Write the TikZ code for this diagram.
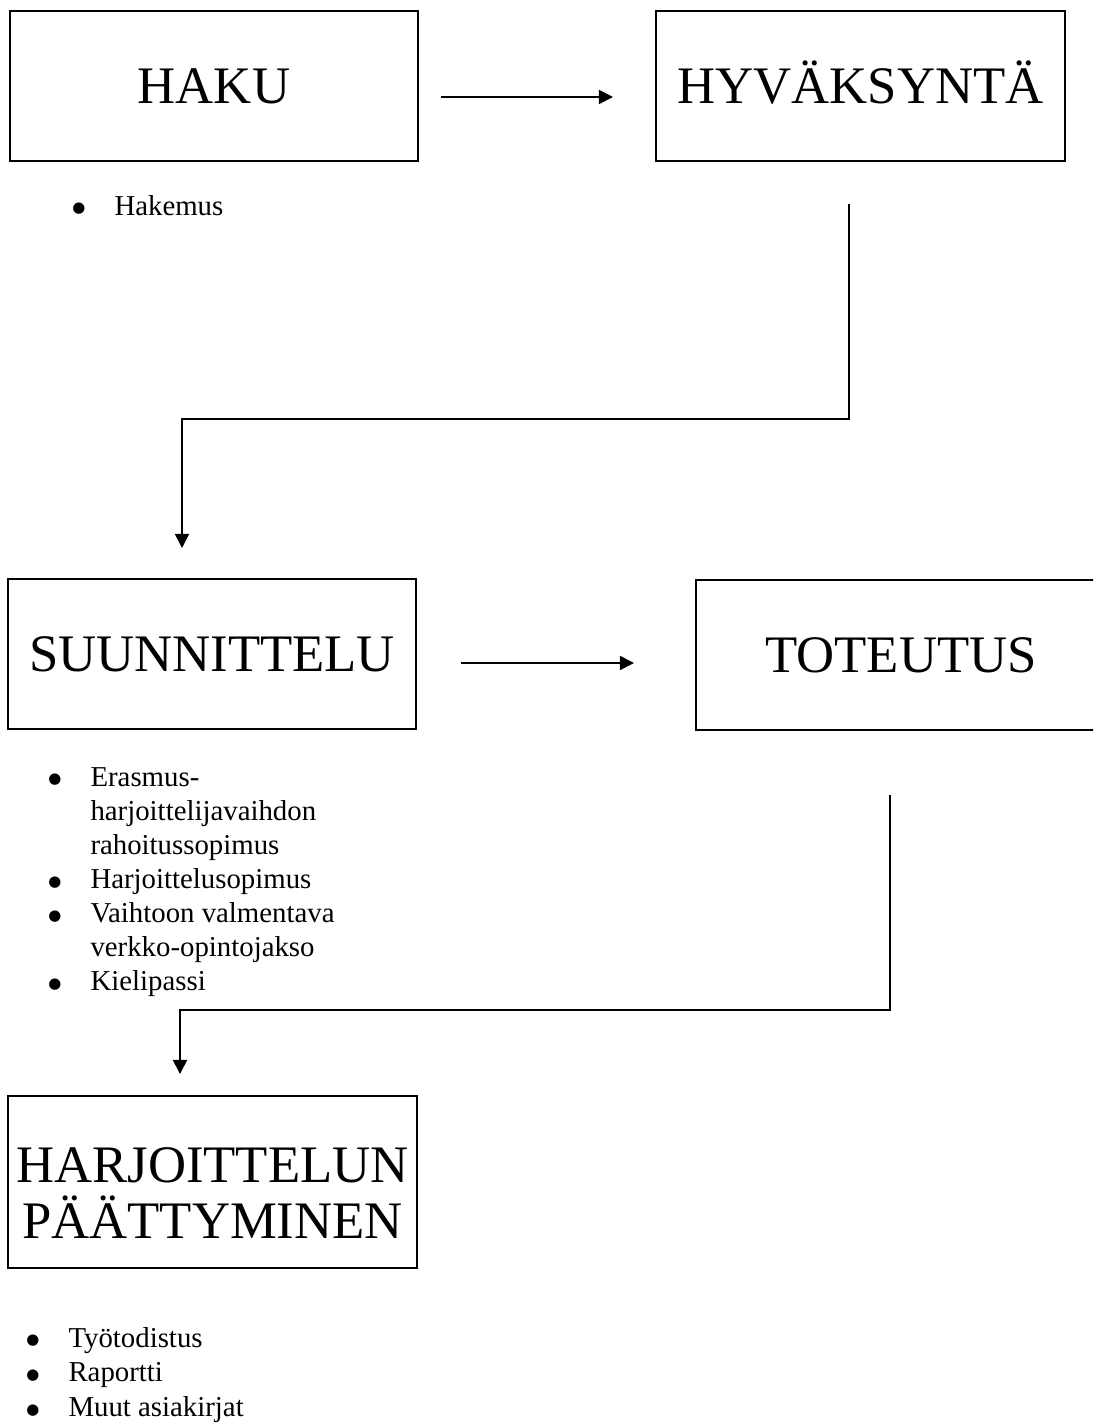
\documentclass[tikz,border=0pt]{standalone}
\usepackage{fontspec}
\setmainfont{Liberation Serif}
\newfontfamily\merkit{DejaVu Sans}
\usetikzlibrary{arrows.meta}

\newcommand{\blt}{\makebox[24pt][l]{\raisebox{1.2pt}{\fontsize{8.5}{8.5}\merkit ●}}}

\begin{document}
\begin{tikzpicture}[x=0.02cm, y=-0.02cm, line join=miter,
    vaihe/.style={draw, line width=1pt, minimum height=3cm, inner sep=0pt,
        font=\fontsize{30}{32}\selectfont, text height=20pt, text depth=0pt},
    lista/.style={anchor=base west, inner sep=0pt, align=left},
    nuoli/.style={line width=1pt, -{Triangle[length=8pt, width=8pt]}}]

    \clip (0, 0) rectangle (1093, 1423);

    % Vaiheet
    \node[vaihe, minimum width=8.16cm] (haku) at (214, 86) {HAKU};
    \node[vaihe, minimum width=8.18cm] (hyvaksynta) at (860.5, 86) {HYVÄKSYNTÄ};
    \node[vaihe, minimum width=8.16cm] (suunnittelu) at (212, 654) {SUUNNITTELU};
    \node[vaihe, minimum width=8.2cm] (toteutus) at (901, 655) {TOTEUTUS};
    \node[vaihe, minimum width=8.18cm, minimum height=3.44cm, align=center,
        text height=64pt, text depth=0pt] (paattyminen) at (212.5, 1182)
        {HARJOITTELUN\\PÄÄTTYMINEN};

    % Nuolten päät
    \coordinate (a1) at (441, 97);
    \coordinate (a2) at (613, 97);
    \coordinate (b1) at (849, 204);
    \coordinate (b2) at (182, 548);
    \coordinate (c1) at (461, 663);
    \coordinate (c2) at (634, 663);
    \coordinate (d1) at (890, 795);
    \coordinate (d2) at (180, 1074);

    \draw[nuoli] (a1) -- (a2);
    \draw[nuoli] (b1) -- (849, 419) -- (182, 419) -- (b2);
    \draw[nuoli] (c1) -- (c2);
    \draw[nuoli] (d1) -- (890, 1010) -- (180, 1010) -- (d2);

    % Asiakirjat
    \node[lista] (hakemus) at (72, 215) {\fontsize{16.4}{19.4}\selectfont
        \begin{tabular}[t]{@{}l@{}l@{}}
            \blt & Hakemus
        \end{tabular}};

    \node[lista] (sopimukset) at (48, 786) {\fontsize{16.4}{19.4}\selectfont
        \begin{tabular}[t]{@{}l@{}l@{}}
            \blt & Erasmus-\\
                 & harjoittelijavaihdon\\
                 & rahoitussopimus\\
            \blt & Harjoittelusopimus\\
            \blt & Vaihtoon valmentava\\
                 & verkko-opintojakso\\
            \blt & Kielipassi
        \end{tabular}};

    \node[lista] (lopuksi) at (26, 1347) {\fontsize{16.4}{19.8}\selectfont
        \begin{tabular}[t]{@{}l@{}l@{}}
            \blt & Työtodistus\\
            \blt & Raportti\\
            \blt & Muut asiakirjat
        \end{tabular}};

\end{tikzpicture}
\end{document}
